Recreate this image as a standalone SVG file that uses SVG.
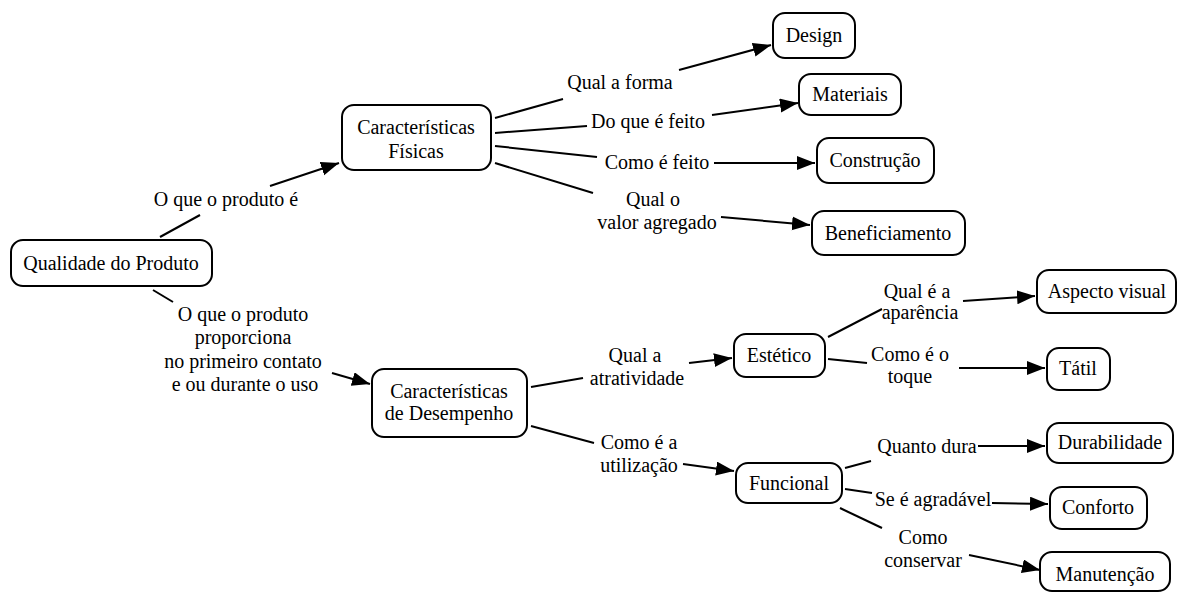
<svg xmlns="http://www.w3.org/2000/svg" width="1178" height="593" viewBox="0 0 1178 593">
<style>
.box{fill:#fff;stroke:#000;stroke-width:2}
.ln{stroke:#000;stroke-width:2;fill:none}
.t{font-family:"Liberation Serif",serif;font-size:20px;text-anchor:middle;fill:#000}
</style>
<defs>
<marker id="ah" markerUnits="userSpaceOnUse" markerWidth="20" markerHeight="16" refX="18" refY="7" orient="auto">
<path d="M0,0 L18,7 L0,14 z" fill="#000"/>
</marker>
</defs>
<rect width="1178" height="593" fill="#fff"/>
<g id="connectors">
<line class="ln" x1="160" y1="237" x2="200" y2="215"/>
<line class="ln" x1="270" y1="186" x2="339" y2="163" marker-end="url(#ah)"/>
<line class="ln" x1="153" y1="290" x2="173" y2="302"/>
<line class="ln" x1="332" y1="373" x2="370" y2="384" marker-end="url(#ah)"/>
<line class="ln" x1="495" y1="118" x2="563" y2="99"/>
<line class="ln" x1="679" y1="70" x2="771" y2="45" marker-end="url(#ah)"/>
<line class="ln" x1="495" y1="133" x2="587" y2="126"/>
<line class="ln" x1="712" y1="115" x2="798" y2="103" marker-end="url(#ah)"/>
<line class="ln" x1="495" y1="146" x2="597" y2="157"/>
<line class="ln" x1="714" y1="163" x2="815" y2="163" marker-end="url(#ah)"/>
<line class="ln" x1="495" y1="163" x2="593" y2="193"/>
<line class="ln" x1="721" y1="217" x2="810" y2="225" marker-end="url(#ah)"/>
<line class="ln" x1="531" y1="387" x2="583" y2="378"/>
<line class="ln" x1="689" y1="363" x2="732" y2="358" marker-end="url(#ah)"/>
<line class="ln" x1="531" y1="426" x2="594" y2="443"/>
<line class="ln" x1="683" y1="464" x2="734" y2="471" marker-end="url(#ah)"/>
<line class="ln" x1="828" y1="337" x2="882" y2="309"/>
<line class="ln" x1="963" y1="301" x2="1035" y2="296" marker-end="url(#ah)"/>
<line class="ln" x1="828" y1="359" x2="867" y2="363"/>
<line class="ln" x1="959" y1="368" x2="1045" y2="368" marker-end="url(#ah)"/>
<line class="ln" x1="845" y1="468" x2="871" y2="461"/>
<line class="ln" x1="978" y1="446" x2="1045" y2="446" marker-end="url(#ah)"/>
<line class="ln" x1="845" y1="489" x2="872" y2="493"/>
<line class="ln" x1="992" y1="503" x2="1048" y2="504" marker-end="url(#ah)"/>
<line class="ln" x1="840" y1="508" x2="882" y2="528"/>
<line class="ln" x1="969" y1="555" x2="1040" y2="570" marker-end="url(#ah)"/>
<text class="t" x="226" y="206">O que o produto é</text>
<text class="t" x="243" y="321">O que o produto</text>
<text class="t" x="243" y="344">proporciona</text>
<text class="t" x="243" y="368">no primeiro contato</text>
<text class="t" x="245" y="391">e ou durante o uso</text>
<text class="t" x="620" y="89">Qual a forma</text>
<text class="t" x="648" y="128">Do que é feito</text>
<text class="t" x="657" y="169">Como é feito</text>
<text class="t" x="653" y="206">Qual o</text>
<text class="t" x="657" y="229">valor agregado</text>
<text class="t" x="635" y="362">Qual a</text>
<text class="t" x="637" y="385">atratividade</text>
<text class="t" x="639" y="449">Como é a</text>
<text class="t" x="639" y="472">utilização</text>
<text class="t" x="917" y="298">Qual é a</text>
<text class="t" x="920" y="319">aparência</text>
<text class="t" x="910" y="361">Como é o</text>
<text class="t" x="910" y="383">toque</text>
<text class="t" x="927" y="453">Quanto dura</text>
<text class="t" x="933" y="506">Se é agradável</text>
<text class="t" x="923" y="544">Como</text>
<text class="t" x="923" y="567">conservar</text>
</g>
<g id="n-qualidade"><rect class="box" x="11" y="240" width="201" height="46" rx="12"/><text class="t" x="111" y="270">Qualidade do Produto</text></g>
<g id="n-fisicas"><rect class="box" x="342" y="105" width="149" height="65" rx="12"/><text class="t" x="416" y="134">Características</text><text class="t" x="416" y="158">Físicas</text></g>
<g id="n-desempenho"><rect class="box" x="372" y="369" width="155" height="68" rx="12"/><text class="t" x="449" y="398">Características</text><text class="t" x="449" y="420">de Desempenho</text></g>
<g id="n-design"><rect class="box" x="773" y="13" width="82" height="45" rx="12"/><text class="t" x="814" y="42">Design</text></g>
<g id="n-materiais"><rect class="box" x="799" y="74" width="102" height="41" rx="12"/><text class="t" x="850" y="101">Materiais</text></g>
<g id="n-construcao"><rect class="box" x="817" y="138" width="117" height="45" rx="12"/><text class="t" x="875" y="167">Construção</text></g>
<g id="n-beneficiamento"><rect class="box" x="812" y="211" width="153" height="44" rx="12"/><text class="t" x="888" y="240">Beneficiamento</text></g>
<g id="n-estetico"><rect class="box" x="734" y="334" width="91" height="43" rx="12"/><text class="t" x="779" y="362">Estético</text></g>
<g id="n-funcional"><rect class="box" x="736" y="463" width="106" height="40" rx="12"/><text class="t" x="789" y="490">Funcional</text></g>
<g id="n-aspecto"><rect class="box" x="1037" y="270" width="139" height="43" rx="12"/><text class="t" x="1107" y="298">Aspecto visual</text></g>
<g id="n-tatil"><rect class="box" x="1047" y="348" width="63" height="42" rx="12"/><text class="t" x="1078" y="375">Tátil</text></g>
<g id="n-durabilidade"><rect class="box" x="1047" y="423" width="126" height="40" rx="12"/><text class="t" x="1110" y="449">Durabilidade</text></g>
<g id="n-conforto"><rect class="box" x="1050" y="487" width="97" height="42" rx="12"/><text class="t" x="1098" y="514">Conforto</text></g>
<g id="n-manutencao"><rect class="box" x="1040" y="552" width="130" height="39" rx="12"/><text class="t" x="1105" y="581">Manutenção</text></g>
</svg>
